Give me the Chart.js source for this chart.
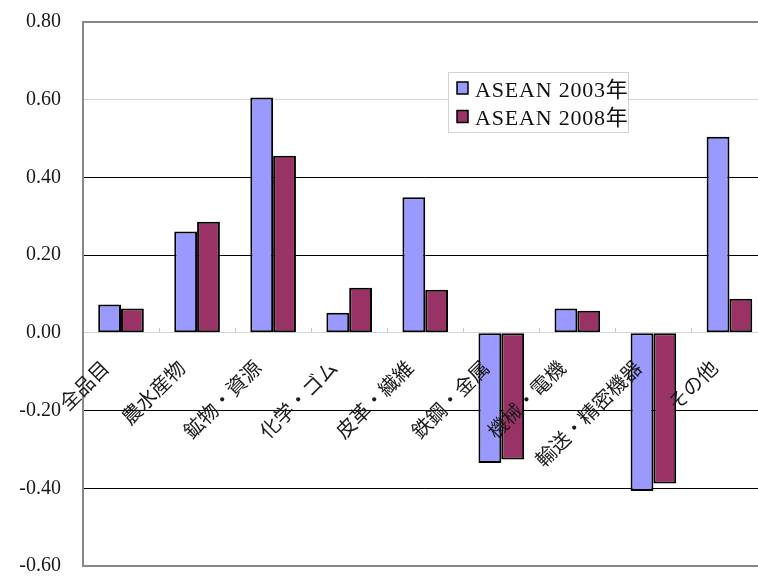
<!DOCTYPE html>
<html>
<head>
<meta charset="utf-8">
<script src="https://cdn.jsdelivr.net/npm/chart.js@4/dist/chart.umd.min.js"></script>
<style>
  html, body { margin: 0; padding: 0; background: #fff; overflow: hidden; }
  #wrap { width: 758px; height: 576px; overflow: hidden; position: relative; }
  canvas { display: block; }
</style>
</head>
<body>
<div id="wrap"><canvas id="c" width="775" height="576"></canvas></div>
<script>
// Categories and series values
const categories = ['全品目', '農水産物', '鉱物・資源', '化学・ゴム', '皮革・繊維', '鉄鋼・金属', '機械・電機', '輸送・精密機器', 'その他'];
const asean2003 = [0.073, 0.261, 0.606, 0.052, 0.349, -0.335, 0.063, -0.407, 0.505];
const asean2008 = [0.063, 0.286, 0.456, 0.116, 0.111, -0.326, 0.057, -0.388, 0.088];
const seriesNames = ['ASEAN 2003年', 'ASEAN 2008年'];
const yTickValues = [-0.6, -0.4, -0.2, 0, 0.2, 0.4, 0.6, 0.8];

const SERIF = '"Liberation Serif", "Noto Sans CJK JP", serif';

// y gridline styling per value
function gridColor(v) {
  if (Math.abs(v - 0.8) < 1e-6 || Math.abs(v + 0.6) < 1e-6) return '#878787';
  if (Math.abs(v - 0.6) < 1e-6 || Math.abs(v) < 1e-6) return '#d4d4d4';
  return '#000000';
}
function gridWidth(v) {
  if (Math.abs(v - 0.8) < 1e-6 || Math.abs(v + 0.6) < 1e-6) return 2;
  return 1;
}

// Boxed legend drawn inside the plot
const boxedLegend = {
  id: 'boxedLegend',
  afterDraw(chart) {
    const ctx = chart.ctx;
    const x = 448, y = 72, w = 180, h = 60;
    ctx.save();
    ctx.fillStyle = '#ffffff';
    ctx.fillRect(x, y, w, h);
    ctx.strokeStyle = '#d2d2d2';
    ctx.lineWidth = 1;
    ctx.strokeRect(x + 0.5, y + 0.5, w, h);
    ctx.font = '22px ' + SERIF;
    ctx.letterSpacing = '0.8px';
    ctx.textBaseline = 'alphabetic';
    chart.data.datasets.forEach((ds, i) => {
      const my = 82 + i * 28.5;
      ctx.fillStyle = ds.backgroundColor;
      ctx.fillRect(457, my, 11, 12);
      ctx.strokeStyle = '#000';
      ctx.lineWidth = 1.5;
      ctx.strokeRect(457, my, 11, 12);
      ctx.fillStyle = '#111';
      ctx.fillText(ds.label, 475, 96.5 + i * 28);
    });
    ctx.restore();
  }
};

new Chart(document.getElementById('c'), {
  type: 'bar',
  data: {
    labels: categories,
    datasets: [
      { label: seriesNames[0], data: asean2003, backgroundColor: '#9999ff', borderColor: '#000', borderWidth: 2, borderSkipped: false },
      { label: seriesNames[1], data: asean2008, backgroundColor: '#993366', borderColor: '#000', borderWidth: 2, borderSkipped: false }
    ]
  },
  options: {
    responsive: false,
    animation: false,
    devicePixelRatio: 1,
    layout: { padding: { top: 22, bottom: 10, left: 0, right: 0 } },
    datasets: { bar: { categoryPercentage: 0.6, barPercentage: 1.0 } },
    plugins: { legend: { display: false }, tooltip: { enabled: false } },
    scales: {
      x: {
        position: { y: 0 },
        grid: {
          display: true,
          offset: true,
          drawOnChartArea: false,
          drawTicks: true,
          tickLength: -5,
          color: '#c8c8c8'
        },
        border: { display: false },
        ticks: {
          z: 1,
          autoSkip: false,
          minRotation: 45,
          maxRotation: 45,
          padding: 30,
          labelOffset: -14,
          color: '#1a1a1a',
          font: { family: SERIF, size: 20, lineHeight: 1.1 }
        }
      },
      y: {
        min: -0.6,
        max: 0.8,
        afterBuildTicks(scale) { scale.ticks = yTickValues.map(v => ({ value: v })); },
        afterFit(scale) { scale.width = 83; },
        grid: {
          color: c => gridColor(c.tick.value),
          lineWidth: c => gridWidth(c.tick.value),
          drawTicks: true,
          tickLength: 22,
          tickColor: 'rgba(0,0,0,0)'
        },
        border: { color: '#878787', width: 2 },
        ticks: {
          padding: 0,
          color: '#1a1a1a',
          font: { family: SERIF, size: 20, lineHeight: 1 },
          callback: v => Number(v).toFixed(2)
        }
      }
    }
  },
  plugins: [boxedLegend]
});
</script>
</body>
</html>
